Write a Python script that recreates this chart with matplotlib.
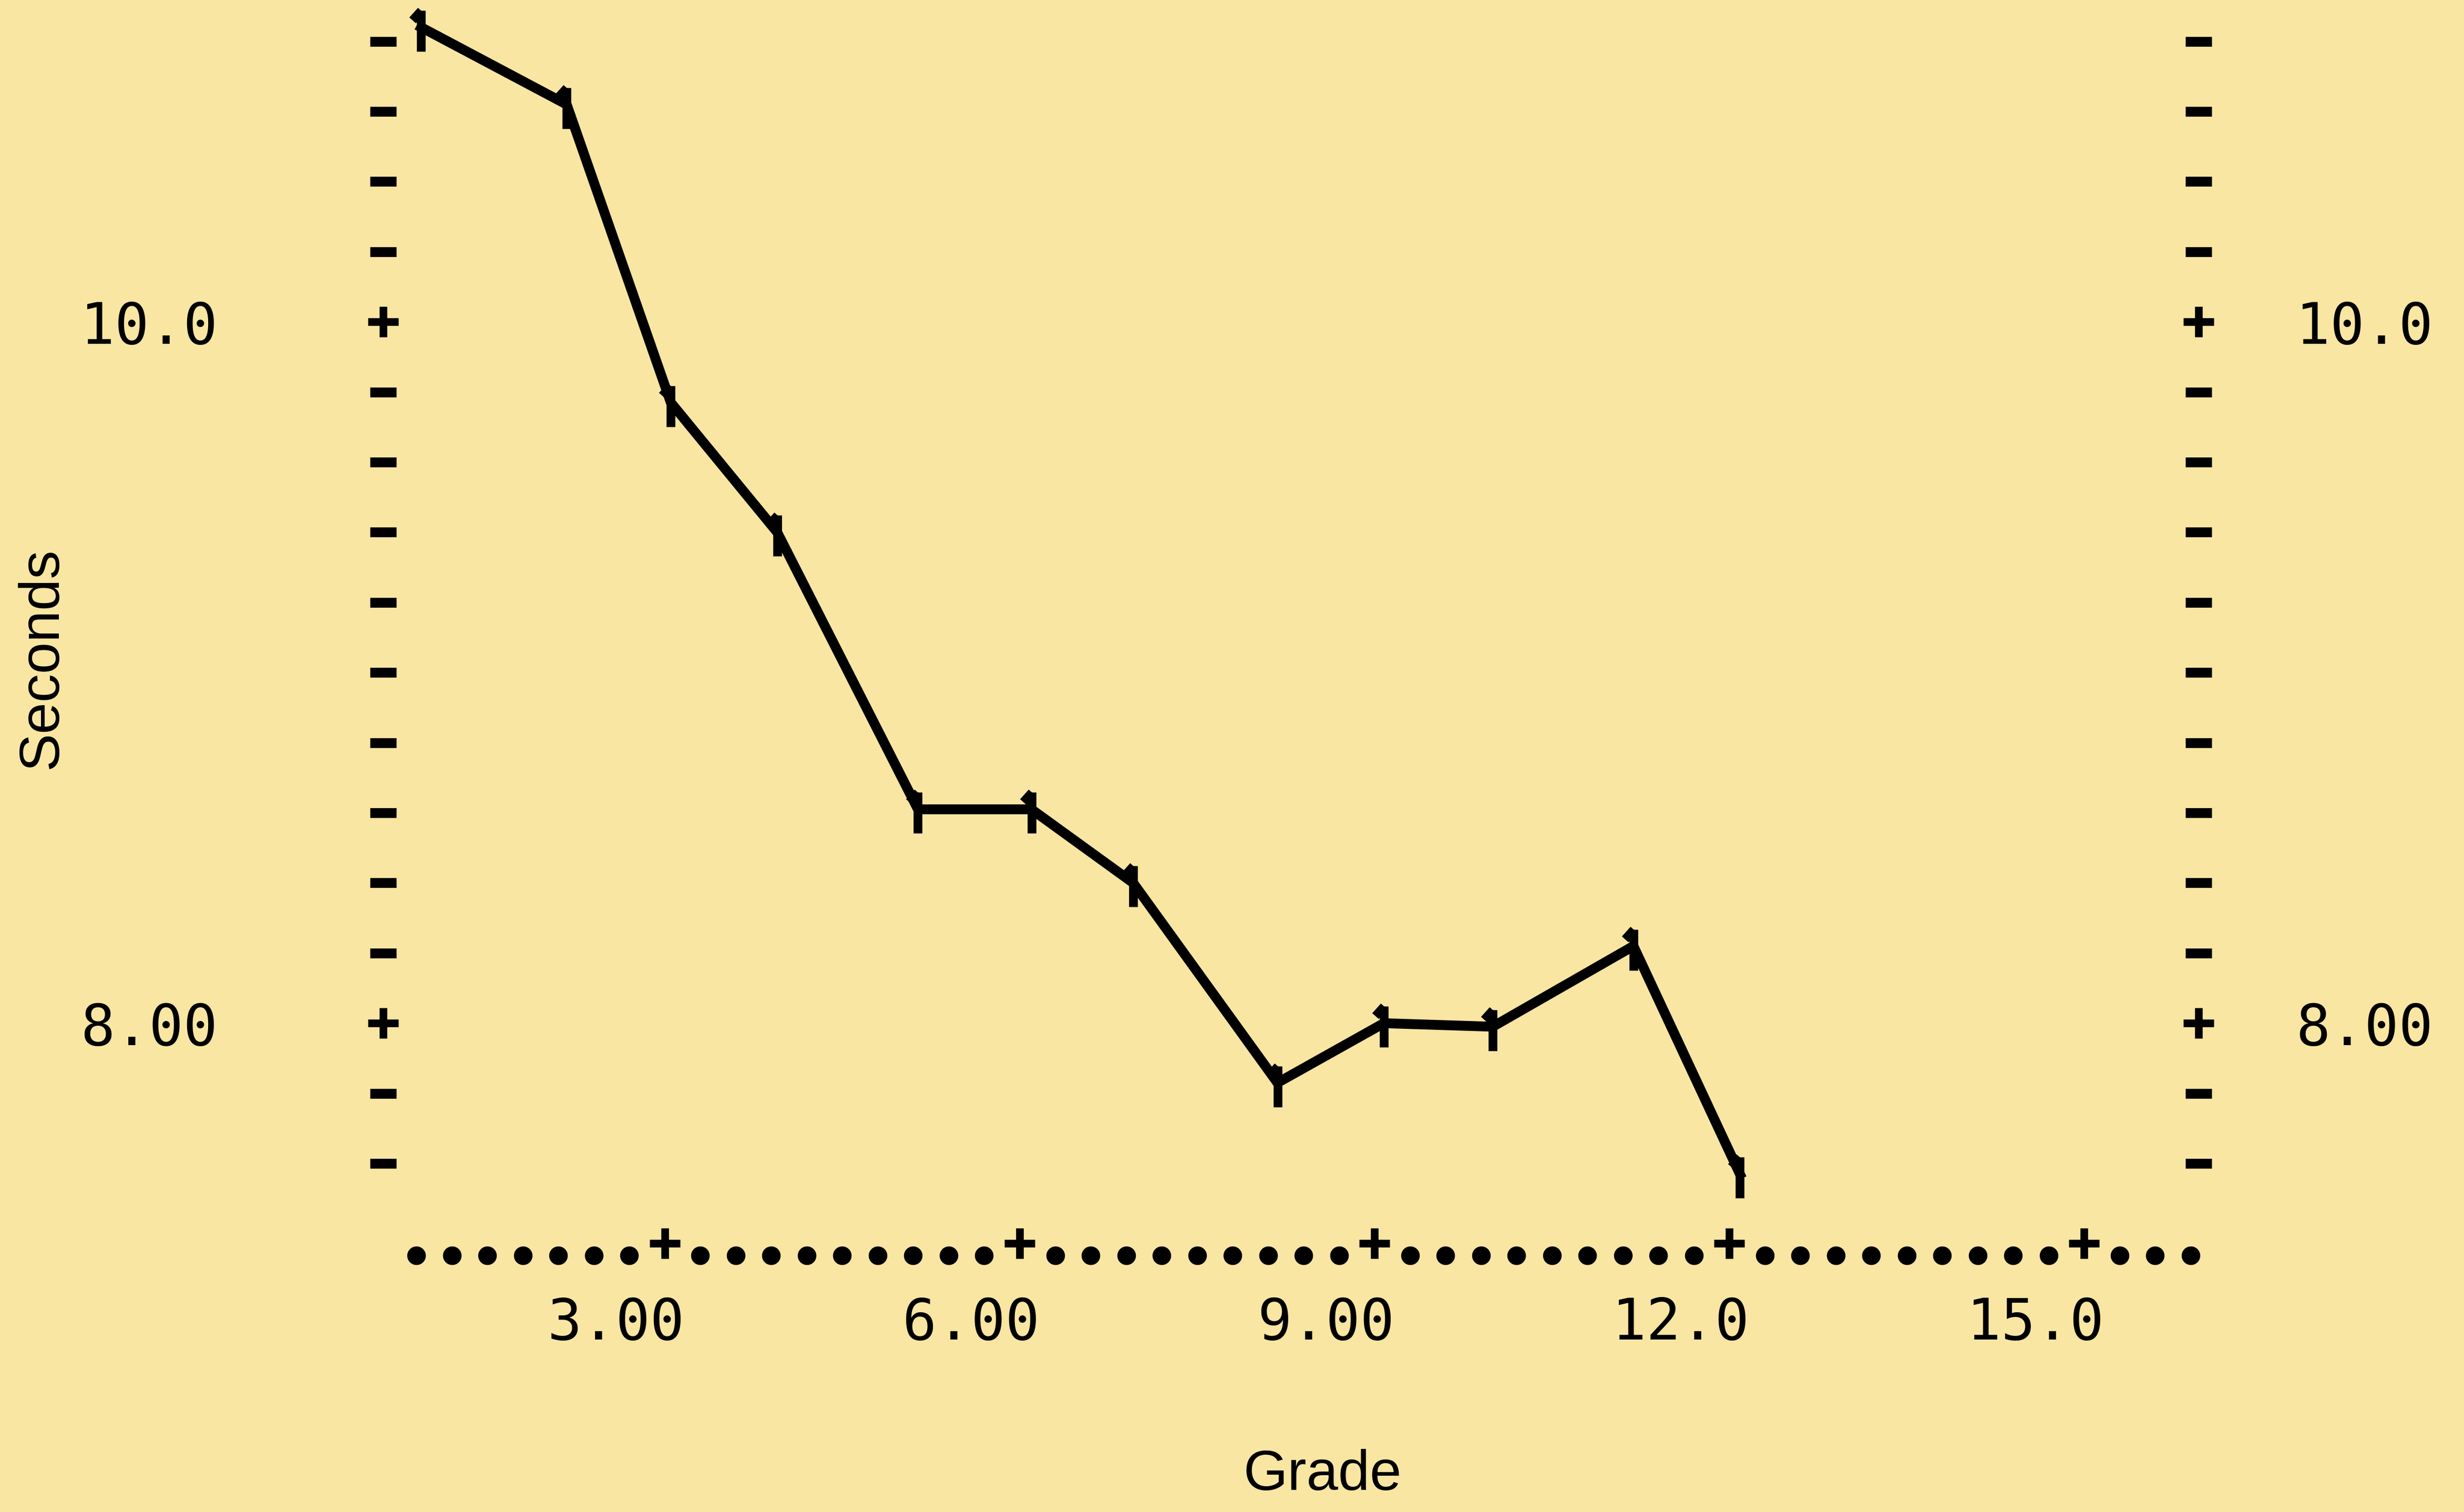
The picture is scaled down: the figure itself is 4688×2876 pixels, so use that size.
import numpy as np
import matplotlib
matplotlib.use("Agg")
import matplotlib.pyplot as plt
from matplotlib.path import Path

# values
grade = [0.94, 2.17, 3.05, 3.95, 5.14, 6.10, 6.96, 8.18, 9.08, 10.0, 11.19, 12.09]
seconds = [10.84, 10.62, 9.77, 9.40, 8.61, 8.61, 8.40, 7.83, 8.00, 7.99, 8.22, 7.57]

x_ticks = [3, 6, 9, 12, 15]
x_labels = ['3.00', '6.00', '9.00', '12.0', '15.0']
y_ticks = [8, 10]
y_labels = ['8.00', '10.0']

bg = '#f9e6a3'
mono = 'DejaVu Sans Mono'

fig = plt.figure(figsize=(4688 / 300, 2876 / 300), dpi=300, facecolor=bg)
ax = fig.add_axes([0, 0, 1, 1])
ax.set_facecolor(bg)
ax.axis('off')
ax.set_xlim(-2.622, 18.213)
ax.set_ylim(6.606, 10.918)

# plotter style axes: dashes / pluses for y, dots / pluses for x
left_x, right_x, base_y = 0.62, 15.97, 7.337
y_minor = [v for v in np.round(np.arange(7.6, 10.81, 0.2), 1) if v not in y_ticks]
x_dots = [v for v in np.round(np.arange(0.9, 15.91, 0.3), 1) if v not in x_ticks]

for ax_x in (left_x, right_x):
    ax.plot([ax_x] * len(y_minor), y_minor, ls='none', marker='_', ms=12, mew=4.5, color='k')
    ax.plot([ax_x] * len(y_ticks), y_ticks, ls='none', marker='+', ms=14, mew=3.5, color='k')
ax.plot(x_dots, [base_y] * len(x_dots), ls='none', marker='o', ms=7.5, color='k')
ax.plot(x_ticks, [base_y + 0.035] * len(x_ticks), ls='none', marker='+', ms=14, mew=3.5, color='k')

for v, s in zip(y_ticks, y_labels):
    ax.text(-0.78, v, s, ha='right', va='center_baseline', fontsize=26, family=mono)
    ax.text(16.79, v, s, ha='left', va='center_baseline', fontsize=26, family=mono)
for v, s in zip(x_ticks, x_labels):
    ax.text(v + 0.17, 7.16, s, ha='right', va='center_baseline', fontsize=26, family=mono)

# the data line with the little flag symbol at each point
flag = Path([(0, 0.35), (0, -0.5), (0, 0.35), (-0.18, 0.15)],
            [Path.MOVETO, Path.LINETO, Path.MOVETO, Path.LINETO])
ax.plot(grade, seconds, color='k', lw=4.5, solid_joinstyle='round')
ax.plot(grade, seconds, ls='none', marker=flag, ms=22, mew=4, mec='k', mfc='none')

fig.text(0.017, 0.5647, 'Seconds', rotation=90, ha='center', va='center',
         fontsize=26, family='Liberation Sans')
fig.text(0.5367, 0.0243, 'Grade', ha='center', va='center',
         fontsize=26, family='Liberation Sans')

fig.savefig('out.png', dpi=300, facecolor=bg)
